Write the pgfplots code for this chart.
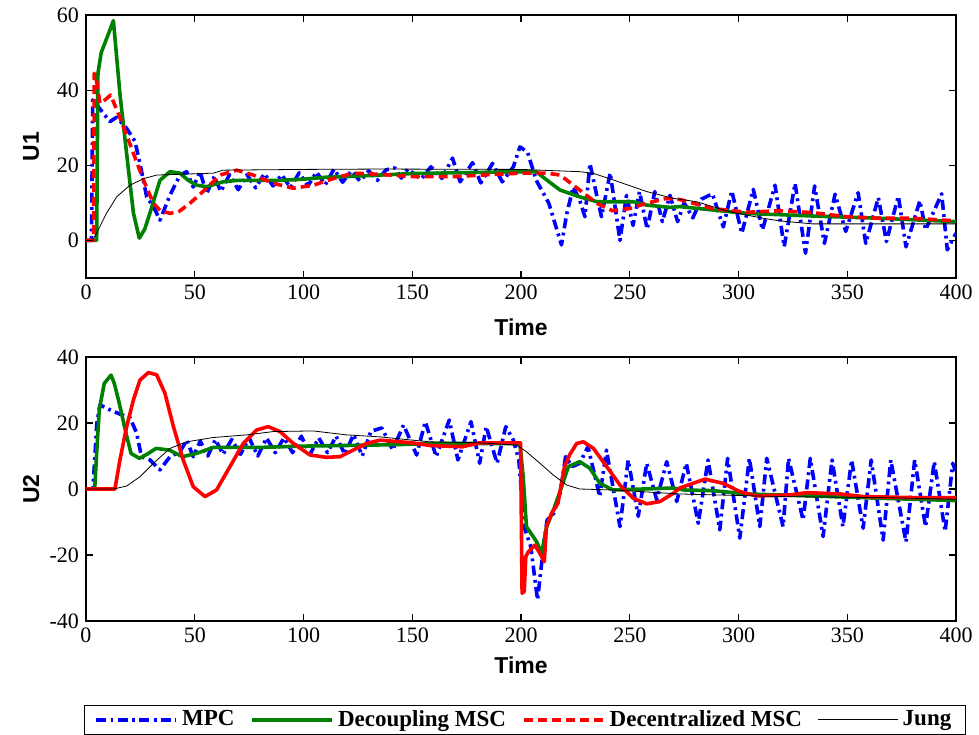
\documentclass[border=0pt]{standalone}
\usepackage{fontspec}
\setmainfont{Liberation Serif}
\setsansfont{Liberation Sans}
\usepackage{pgfplots}
\pgfplotsset{compat=1.18}
\definecolor{mpcblue}{rgb}{0,0,1}
\definecolor{decgreen}{rgb}{0,0.5,0}
\definecolor{decred}{rgb}{1,0,0}
\pgfplotsset{
  panel/.style={
    scale only axis, width=435pt, anchor=south west,
    xmin=0, xmax=400, xtick={0,50,...,400},
    axis line style={line width=0.7pt},
    tick style={line width=0.6pt, black},
    major tick length=3.5pt,
    tick align=inside,
    /pgf/number format/assume math mode=true,
    tick label style={font=\fontsize{11}{13}\selectfont},
    label style={font=\sffamily\bfseries\fontsize{11.5}{13}\selectfont},
    xlabel={Time},
    clip=true,
  },
  mpc/.style={color=mpcblue, line width=1.8pt, dash pattern=on 5pt off 2.2pt on 1.4pt off 2.2pt, line join=round},
  dmsc/.style={color=decgreen, line width=1.8pt, line join=round},
  cmsc/.style={color=decred, line width=1.8pt, dash pattern=on 4.5pt off 2.5pt, line join=round},
  jung/.style={color=black, line width=0.4pt},
}
\begin{document}
\begin{tikzpicture}
% ---------------- top panel ----------------
\begin{axis}[panel, at={(43pt,228pt)}, height=131.5pt,
  ymin=-10, ymax=60, ytick={0,20,40,60},
  ylabel={U1},
  ylabel style={at={(axis description cs:-0.063,0.5)}, anchor=center},
  xlabel style={at={(axis description cs:0.5,-0.186)}, anchor=center},
]
\addplot[mpc] coordinates {
(0,0) (2.5,0) (3.1,37.4) (6.4,35) (11,31.6) (14.1,32.8) (18.7,29.8) (22.5,26.4) (24.8,20.5) (27.9,11.6) (31,9) (34,5.4) (38.6,12) (43.2,17.4) (46.3,18.3) (49.3,14.2) (52.4,18.3) (55.5,12.5) (59,17) (62,13) (66,17.5) (70,13.5) (74,17.5) (78,14) (82,17.8) (86,14.5) (90,17.5) (94,14) (98,18) (102,14.5) (106,18.2) (110,14.8) (114,19) (118,15.5) (122,18.5) (126,15.8) (130,18.5) (134,16) (138,18.8) (142,19.3) (145,16.6) (148,19) (154,16.3) (158.6,19.6) (163.6,16.5) (168.5,21.9) (172,15.6) (177.7,20.7) (181.5,15.3) (186.9,20.5) (191.4,15.6) (196.5,19.6) (199.5,24.9) (203,23.5) (207,16) (212.8,9.9) (218.6,-1.2) (221,7) (224,14.2) (227,10.7) (229.4,6.3) (231.7,20.5) (234.8,12) (237,6.3) (241,18) (245.5,0) (248.5,12) (251.5,4) (254.5,13) (258,3) (261.5,13) (265,5) (268.5,12) (272,5) (275,10) (279,6) (283,11) (288,12.4) (293,3.6) (296.9,13.2) (301.5,1.9) (306.8,13.6) (311,2.8) (316.8,14.7) (321,-1.7) (326,15.2) (330.8,-3.4) (335,14.5) (339.5,-0.8) (344.4,12.3) (349.3,2.4) (355,12.7) (358.5,-0.8) (364.3,11.4) (368,-0.3) (373.5,11.8) (377,-1.7) (383.4,10.6) (386,2.8) (393.4,12.4) (396,-2.5) (400,1.9)
};
\addplot[dmsc] coordinates {
(0,0) (4.9,0) (5.5,44.5) (7,50) (9,53) (11,56) (12.6,58.5) (15.6,39) (18.7,23) (21.8,7.3) (24.5,0.6) (27,3) (29.4,7.3) (34,16) (38.6,18.3) (43.2,17.9) (47,16) (50.9,14.7) (55.5,14.3) (63,15.6) (70,16) (80,16) (90,16) (100,16.3) (110,16.8) (120,17) (135,17.4) (150,17.8) (170,18) (190,18.2) (207,18.3) (211.8,16.1) (218,13.4) (227,11.6) (235,10.3) (251.6,10.3) (257.8,9.4) (268.5,8.8) (273,9) (290,8) (303.8,7.2) (334,6.5) (365,5.9) (400,5)
};
\addplot[cmsc] coordinates {
(0,0) (3.5,0) (3.8,44.5) (5,42) (6.4,36.5) (9,37.5) (11.3,38.7) (14,35) (17.2,30.3) (21.8,23.2) (26.4,16.1) (31,9.9) (34,8) (38.6,7.2) (43,7.8) (47.8,9.9) (55.5,13.9) (61.6,17.4) (69.3,18.7) (76.9,17.4) (86.1,15.2) (95.4,13.9) (104.6,14.7) (113.8,16.5) (123,17.9) (135,17.6) (150,17) (170,17) (185,17.5) (200,17.9) (212,17.9) (218,17.4) (227,13.4) (234.8,9.9) (242,7.9) (250,8.5) (257.8,9.9) (267,11.2) (273,10.9) (288,8.5) (303.8,7.5) (319,7.9) (334,7.4) (349.7,6.3) (365,5.9) (380,5.9) (400,5.2)
};
\addplot[jung] coordinates {
(0,0) (3,0) (4.9,2) (9.5,7.3) (14.1,11.6) (20.2,14.7) (26.3,16.4) (32.5,17.4) (58.5,17.9) (63,18.7) (100,18.9) (135,19) (200,18.9) (227,18.3) (233,17.9) (242.4,16.1) (257.8,13) (270,11.2) (280.8,10.3) (296,7.6) (311.4,5.9) (319,5.2) (334,4.4) (400,4.4)
};
\end{axis}
% ---------------- bottom panel ----------------
\begin{axis}[panel, at={(43pt,56.5pt)}, height=132pt,
  ymin=-40, ymax=40, ytick={-40,-20,0,20,40},
  ylabel={U2},
  ylabel style={at={(axis description cs:-0.063,0.5)}, anchor=center},
  xlabel style={at={(axis description cs:0.5,-0.167)}, anchor=center},
  legend columns=4,
  legend image code/.code={\draw[#1] (0pt,0pt) -- (33pt,0pt); \path (0pt,0pt) -- (40pt,0pt);},
  legend style={at={(axis description cs:0.5045,-0.374)}, anchor=center,
    draw=black, line width=0.6pt, inner xsep=5pt, inner ysep=0.5pt,
    font=\bfseries\fontsize{11.5}{12.5}\selectfont,
    /tikz/every even column/.append style={column sep=6pt}},
]
\addplot[mpc] coordinates {
(0,0) (3.2,0) (5,20) (6.4,25.5) (11,24) (15.6,22.7) (20.2,21.7) (23.3,16.9) (25.5,9.8) (29.4,8.8) (34,5.8) (38.6,9.8) (43.2,11.3) (46.3,14.8) (49.3,9.8) (52.5,14.5) (56,10) (59.5,15) (63,10.5) (67,15) (71,10.5) (75,15.5) (79,10) (83,15.5) (87,11) (91,15.5) (95,11) (99,16) (103,10.5) (107,15.5) (111,11) (115,16) (119,10.5) (123,16.5) (127,10) (131,17.5) (136,18.5) (141,11.8) (146,19.4) (152,10.3) (156,20.4) (161,9.8) (167,20.9) (171,8.8) (177,20.4) (181,7.8) (184,18.9) (189,7.8) (193,18.9) (196.5,14.8) (199,8.8) (201.4,-11.4) (204.5,-17.5) (207.6,-33.6) (210.6,-16) (212,-9.4) (215,-7.4) (218,-1.3) (220.5,9.8) (223.6,6.8) (227,7.8) (230.8,12.8) (236.2,-2.3) (239.3,11.8) (245.5,-11.4) (249.3,8.8) (253.9,-8.3) (257.8,7.8) (262.4,-3.3) (267,8.3) (271.6,-3.8) (276,7.8) (281.5,-10.4) (286,8.8) (291.4,-12.4) (295,9.3) (300.6,-14.9) (305,9.3) (309.8,-11.4) (313,9.3) (320.5,-11.4) (323,9.3) (329.7,-9.4) (333,9.3) (338.9,-14.4) (343,8.8) (348,-11.4) (352,8.8) (357.3,-11.9) (361,8.8) (366.5,-15.5) (370,8.8) (377,-16) (381,8.8) (386,-11.4) (390,8.3) (395,-12.9) (398.5,7.8) (400,5)
};
\addlegendentry{MPC}
\addplot[dmsc] coordinates {
(0,0) (4,0) (5,12) (6.1,24) (8.4,32) (11.5,34.5) (13,32) (15.3,26) (18.4,16.9) (20.7,10.8) (24.5,9.3) (28,10.5) (32.2,12.3) (38.3,11.8) (44.4,9.8) (50.9,10.8) (58.5,12.6) (80,12.6) (100,13) (131,13.3) (145.6,13.5) (160,13.8) (199.5,13.8) (201,3.7) (202.5,-11.4) (207.2,-16) (209.5,-19.5) (211.8,-11.4) (214.9,-6.4) (218.7,0.7) (221.8,6.8) (227,8.3) (231.6,6.3) (236.3,1.7) (242.4,-0.3) (251.6,-0.1) (270,0.3) (275,-0.3) (288.4,-0.5) (303.8,-1.5) (334,-2.1) (365,-2.8) (400,-3.5)
};
\addlegendentry{Decoupling MSC}
\addplot[decred, line width=1.8pt, line join=round, forget plot] coordinates {
(0,0) (13.3,0) (15.6,8.8) (18.7,18.9) (21.8,27) (24.8,33) (28.7,35.3) (32.5,34.6) (36.3,29) (40.2,18.9) (44.7,8.8) (49.3,0.7) (54.7,-2.3) (60,-0.3) (66.2,6.8) (72.3,13.8) (78.5,17.9) (83.8,18.9) (89.2,17.4) (95.3,13.8) (103,10.3) (110.6,9.6) (116.8,9.8) (122.9,11.8) (129,13.8) (135.2,14.8) (150,14) (158,13.2) (173,12.8) (181,14) (199.8,14) (200.5,-31.6) (201.5,-31) (202.2,-20.5) (203.4,-19) (206.4,-17) (208.7,-19.5) (210.7,-22) (211.7,-11.4) (214,-7.4) (217,-4.3) (220,6.8) (222.3,10.3) (225.6,13.8) (228.7,14.3) (233.3,12.3) (239.4,6.8) (245.5,1.2) (251.6,-2.8) (257.8,-4.5) (263.9,-3.8) (270,-1.3) (273,0.3) (279,1.7) (284.6,3.0) (293,1.7) (300.7,-0.8) (308.4,-2.1) (323.7,-1.8) (331.4,-1.1) (346.7,-1.5) (357.4,-2.3) (380.4,-2.6) (400,-2.6)
};
\addlegendimage{cmsc}
\addlegendentry{Decentralized MSC}
\addplot[jung] coordinates {
(0,0) (12.6,0) (18.7,0.9) (24.8,3.7) (31,7.8) (38.6,12.3) (46.3,14.3) (58.5,15.6) (73.8,16.4) (86.1,17.4) (104.5,17.6) (119.8,16.4) (135.2,15.8) (145.7,15.1) (158,14.3) (181,14) (198,13.3) (202.5,11.3) (208.7,7.8) (214.9,4.2) (221,1.2) (227,0) (242.4,-0.3) (273,-1.5) (319,-2.3) (365,-2.6) (400,-3.1)
};
\addlegendentry{Jung}
\end{axis}
\pgfresetboundingbox
\path (0,0) rectangle (489.5pt,367pt);
\end{tikzpicture}
\end{document}
